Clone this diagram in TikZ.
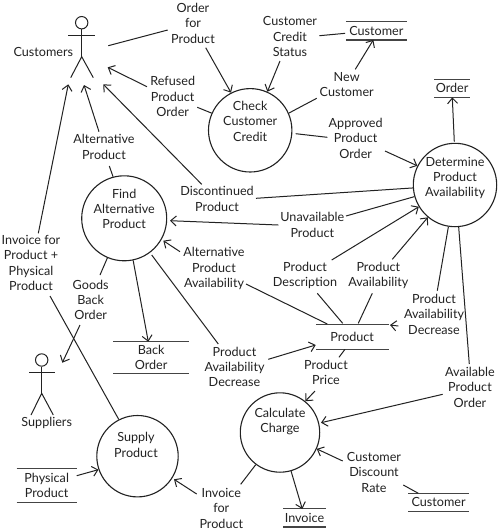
\documentclass[tikz,border=0pt]{standalone}
\usepackage{fontspec}
\setmainfont{Lato}
\usetikzlibrary{arrows.meta}
\definecolor{ink}{HTML}{222222}
\definecolor{shelf}{HTML}{444444}
\tikzset{
  x=1pt,y=-1pt,
  lbl/.style={align=center,inner sep=0pt,text=ink,font=\fontsize{12.6}{15.4}\selectfont},
  proc/.style={circle,draw=ink,line width=1.1pt,inner sep=0pt,minimum size=#1},
  head/.style={circle,draw=ink,line width=1pt,inner sep=0pt,minimum size=12.4pt},
  storebox/.style={lbl,minimum width=#1},
  shelfline/.style={draw=shelf,line width=1.2pt},
  flow/.style={draw=ink,line width=1pt},
  arr/.style={flow,-{Straight Barb[length=5.5pt,width=10pt,line width=1pt]}},
  stick/.style={draw=ink,line width=1pt}
}
\begin{document}
\begin{tikzpicture}
\useasboundingbox[fill=white] (0,0) rectangle (500,531);

% actors
\node[head] (custHead) at (81.7,22.7) {};
\draw[stick] (custHead.south) -- ([shift={(0,34)}]custHead.center);
\draw[stick] ([shift={(-13.4,12.6)}]custHead.center) -- ([shift={(13,12.6)}]custHead.center);
\draw[stick] ([shift={(-11,55)}]custHead.center) -- ([shift={(0,34)}]custHead.center) -- ([shift={(11.6,55)}]custHead.center);
\node[lbl] (custL) at (43.3,52.3) {Customers};

\node[head] (supHead) at (41.7,360) {};
\draw[stick] (supHead.south) -- ([shift={(0,33.3)}]supHead.center);
\draw[stick] ([shift={(-12.7,12.7)}]supHead.center) -- ([shift={(13.3,12.7)}]supHead.center);
\draw[stick] ([shift={(-10.7,55)}]supHead.center) -- ([shift={(0,33.3)}]supHead.center) -- ([shift={(11.6,55)}]supHead.center);
\node[lbl] (supL) at (46.7,423.3) {Suppliers};

% processes
\node[proc=83.4pt,label={[lbl,yshift=9pt]center:{Check\\Customer\\Credit}}] (check) at (250.2,130.3) {};
\node[proc=85pt,label={[lbl,yshift=9.3pt]center:{Find\\Alternative\\Product}}] (find) at (124.2,218.3) {};
\node[proc=83.4pt,label={[lbl,yshift=7pt]center:{Determine\\Product\\Availability}}] (determine) at (455,185) {};
\node[proc=81.4pt,label={[lbl,yshift=11.2pt,xshift=-1.5pt]center:{Supply\\Product}}] (supply) at (137.5,456.2) {};
\node[proc=79.4pt,label={[lbl,yshift=10.8pt]center:{Calculate\\Charge}}] (calc) at (280,432.5) {};

% data stores
\node[storebox=60.7pt,minimum height=17.7pt] (custOne) at (376.35,30.85) {Customer};
\node[storebox=35.7pt,minimum height=17.3pt] (orderS) at (452.15,88.35) {Order};
\node[storebox=72.3pt,minimum height=24.7pt] (productS) at (352.2,336.7) {Product};
\node[storebox=75.7pt,minimum height=31.6pt] (backS) at (151.15,357.5) {Back\\Order};
\node[storebox=60pt,minimum height=33.7pt] (physS) at (46.7,485.15) {Physical\\Product};
\node[storebox=60.7pt,minimum height=17.7pt] (custTwo) at (438.65,502.15) {Customer};
\node[storebox=42.4pt,minimum height=18pt] (invS) at (304.5,517.7) {Invoice};
\foreach \s in {custOne,orderS,productS,backS,physS,custTwo,invS}{
  \draw[shelfline] (\s.north west) -- (\s.north east);
  \draw[shelfline] (\s.south west) -- (\s.south east);
}

% flow labels
\node[lbl] (lOrder) at (193,23.3) {Order\\for\\Product};
\node[lbl] (lRefused) at (172.7,96.7) {Refused\\Product\\Order};
\node[lbl] (lAlt) at (104,147) {Alternative\\Product};
\node[lbl] (lInv) at (31,263) {Invoice for\\Product +\\Physical\\Product};
\node[lbl] (lDisc) at (217,199) {Discontinued\\Product};
\node[lbl] (lCredit) at (290,36.7) {Customer\\Credit\\Status};
\node[lbl] (lNew) at (346.7,84.7) {New\\Customer};
\node[lbl] (lAppr) at (355.7,138.3) {Approved\\Product\\Order};
\node[lbl] (lUnav) at (312.3,225) {Unavailable\\Product};
\node[lbl] (lDesc) at (305,275.7) {Product\\Description};
\node[lbl] (lAvail) at (378.3,275.7) {Product\\Availability};
\node[lbl] (lAltAv) at (214,268.5) {Alternative\\Product\\Availability};
\node[lbl] (lDecL) at (234.5,367) {Product\\Availability\\Decrease};
\node[lbl] (lGoods) at (90.7,300) {Goods\\Back\\Order};
\node[lbl] (lInvP) at (221.3,508.3) {Invoice\\for\\Product};
\node[lbl] (lPrice) at (326,372.3) {Product\\Price};
\node[lbl] (lDecR) at (434,314.3) {Product\\Availability\\Decrease};
\node[lbl] (lAvailO) at (470,387.3) {Available\\Product\\Order};
\node[lbl] (lRate) at (374,472.3) {Customer\\Discount\\Rate};

% connectors
\draw[flow] ([shift={(26.6,23)}]custHead.center) -- ([shift={(-25.3,6.7)}]lOrder.center);
\draw[arr] ([shift={(12.7,24.4)}]lOrder.center) -- (check.117);
\draw[arr] ([shift={(-25.7,-10)}]lRefused.center) -- ([shift={(26,44.6)}]custHead.center);
\draw[flow] (check.156.4) -- ([shift={(24.6,10.6)}]lRefused.center);
\draw[arr] ([shift={(-5,-15.3)}]lAlt.center) -- ([shift={(2.3,62.3)}]custHead.center);
\draw[flow] (find.105.2) -- ([shift={(5.3,19)}]lAlt.center);
\draw[arr] ([shift={(7.3,-29.7)}]lInv.center) -- ([shift={(-13.4,61.6)}]custHead.center);
\draw[flow] (supply.117.3) -- ([shift={(19,33)}]lInv.center);
\draw[arr] ([shift={(-15.3,-14.7)}]lDisc.center) -- ([shift={(21.6,61.6)}]custHead.center);
\draw[flow] (determine.184.4) -- ([shift={(39,-0.7)}]lDisc.center);
\draw[flow] ([shift={(-31.3,2.5)}]custOne.center) -- ([shift={(29.3,-1)}]lCredit.center);
\draw[arr] ([shift={(-10,24.3)}]lCredit.center) -- (check.66.2);
\draw[flow] (check.24.9) -- ([shift={(-30,13.6)}]lNew.center);
\draw[arr] ([shift={(8.6,-15.4)}]lNew.center) -- ([shift={(-3,9)}]custOne.center);
\draw[flow] ([shift={(45.5,3.4)}]check.center) -- ([shift={(-28.4,-1)}]lAppr.center);
\draw[arr] ([shift={(29.3,12.7)}]lAppr.center) -- (determine.153.8);
\draw[arr] ([shift={(-0.7,-43.3)}]determine.center) -- ([shift={(0.15,9)}]orderS.center);
\draw[flow] (determine.196.8) -- ([shift={(33.7,-9)}]lUnav.center);
\draw[arr] ([shift={(-34,0)}]lUnav.center) -- ([shift={(45.8,2.4)}]find.center);
\draw[arr] ([shift={(26.7,-15.7)}]lDesc.center) -- (determine.211.3);
\draw[flow] ([shift={(-9.5,-13.4)}]productS.center) -- ([shift={(12.3,17.6)}]lDesc.center);
\draw[arr] ([shift={(14,-16.4)}]lAvail.center) -- (determine.230.8);
\draw[flow] ([shift={(6.1,-13.4)}]productS.center) -- ([shift={(-6,17.6)}]lAvail.center);
\draw[arr] ([shift={(-34,-16.8)}]lAltAv.center) -- ([shift={(39.1,22.4)}]find.center);
\draw[flow] ([shift={(-24.9,-12.7)}]productS.center) -- ([shift={(32,15.5)}]lAltAv.center);
\draw[arr] (find.282) -- ([shift={(-2.85,-15.8)}]backS.center);
\draw[flow] ([shift={(27.5,36.7)}]find.center) -- ([shift={(-16.2,-23)}]lDecL.center);
\draw[arr] ([shift={(33.8,-7.7)}]lDecL.center) -- ([shift={(-36.5,8.3)}]productS.center);
\draw[flow] (find.247.2) -- ([shift={(9.3,-25)}]lGoods.center);
\draw[arr] ([shift={(-10.7,25)}]lGoods.center) -- ([shift={(20.6,2.7)}]supHead.center);
\draw[arr] ([shift={(30,-9.45)}]physS.center) -- (supply.199);
\draw[arr] ([shift={(-24.6,-14.3)}]lInvP.center) -- ([shift={(36.5,23.1)}]supply.center);
\draw[flow] (calc.233.5) -- ([shift={(19.4,-24)}]lInvP.center);
\draw[flow] ([shift={(-7.2,12.6)}]productS.center) -- ([shift={(13,-15)}]lPrice.center);
\draw[arr] ([shift={(-11,18.7)}]lPrice.center) -- (calc.51);
\draw[flow] (determine.261.2) -- ([shift={(3.3,-23.6)}]lDecR.center);
\draw[arr] ([shift={(-35.7,11.7)}]lDecR.center) -- ([shift={(37.8,-11.7)}]productS.center);
\draw[flow] (determine.275.2) -- ([shift={(-0.7,-23.3)}]lAvailO.center);
\draw[arr] ([shift={(-27.3,7)}]lAvailO.center) -- ([shift={(41,-9.8)}]calc.center);
\draw[arr] ([shift={(-31.3,-11.3)}]lRate.center) -- (calc.336.3);
\draw[flow] ([shift={(-20.35,-8.85)}]custTwo.center) -- ([shift={(29.3,12.7)}]lRate.center);
\draw[arr] (calc.286) -- ([shift={(-2.2,-8.7)}]invS.center);
\end{tikzpicture}
\end{document}
